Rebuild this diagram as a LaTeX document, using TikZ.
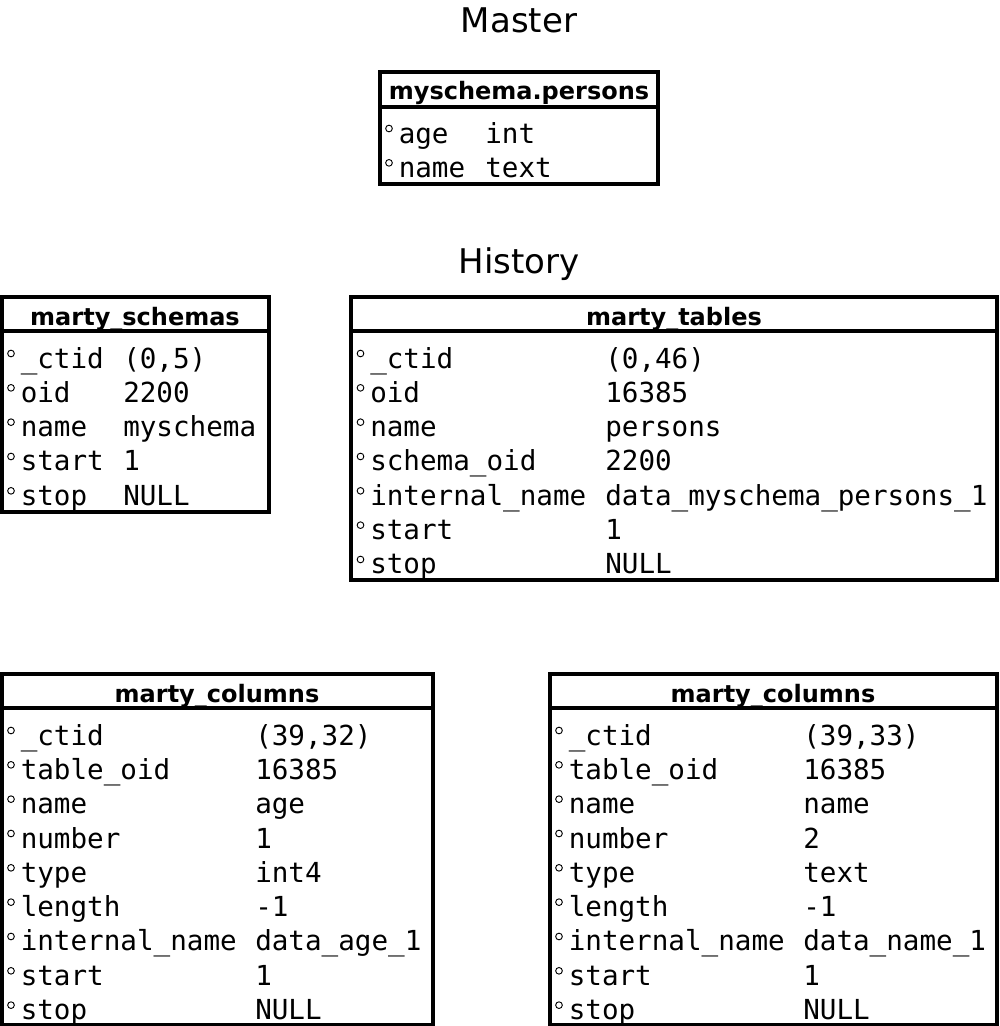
\documentclass[tikz,border=0pt]{standalone}
\usepackage{fontspec}
\setmainfont{DejaVu Sans}
\setmonofont{DejaVu Sans Mono}
\usepackage{tikz}

\tikzset{
  frame/.style={draw, line width=3pt},
  title/.style={font=\fontsize{25.5}{30}\selectfont, anchor=base, inner sep=0pt},
  head/.style={font=\bfseries\fontsize{18}{22}\selectfont, anchor=base, inner sep=0pt},
  field/.style={font=\ttfamily\fontsize{20.7}{24}\selectfont, anchor=base west, inner sep=0pt},
  dot/.style={draw, line width=0.7pt},
}

% rows of a table: prefix, left, value x, first baseline, list
\newcommand{\dbrows}[5]{%
  \foreach \f/\v [count=\i] in {#5} {
    \pgfmathsetmacro{\yb}{#4+34.33*(\i-1)}
    \draw[dot] (#2+9.5,\yb-14.5) circle[radius=2.5pt];
    \node[field] (#1-f\i) at (#2+19,\yb) {\f};
    \node[field] (#1-v\i) at (#3,\yb) {\v};
  }
}

\begin{document}
\begin{tikzpicture}[x=0.75pt, y=-0.75pt, line cap=butt, line join=miter]
    \useasboundingbox (0,0) rectangle (1000,1026);

    % Titles
    \node[title] (master) at (519,32.5) {Master};
    \node[title] (history) at (519,273.5) {History};

    % myschema.persons
    \draw[frame] (379.5,71.5) rectangle (658,183.5);
    \draw[frame] (379.5,107) -- (658,107);
    \node[head] (persons) at (519,99) {myschema.persons};
    \dbrows{persons}{379.5}{485}{143}{age/int, name/text}

    % marty_schemas
    \draw[frame] (1.5,296.5) rectangle (269,511.5);
    \draw[frame] (1.5,331) -- (269,331);
    \node[head] (schemas) at (135,325) {marty\_schemas};
    \dbrows{schemas}{1.5}{123}{368}{\_ctid/{(0,5)}, oid/2200, name/myschema, start/1, stop/NULL}

    % marty_tables
    \draw[frame] (351,296.5) rectangle (997,580);
    \draw[frame] (351,331) -- (997,331);
    \node[head] (tables) at (674,325) {marty\_tables};
    \dbrows{tables}{351}{605}{368}{\_ctid/{(0,46)}, oid/16385, name/persons, schema\_oid/2200,
      internal\_name/data\_myschema\_persons\_1, start/1, stop/NULL}

    % marty_columns (age)
    \draw[frame] (1.5,673.5) rectangle (433,1024.5);
    \draw[frame] (1.5,708) -- (433,708);
    \node[head] (colage) at (217,702) {marty\_columns};
    \dbrows{colage}{1.5}{255}{745}{\_ctid/{(39,32)}, table\_oid/16385, name/age, number/1, type/int4,
      length/-1, internal\_name/data\_age\_1, start/1, stop/NULL}

    % marty_columns (name)
    \draw[frame] (549.5,673.5) rectangle (997,1024.5);
    \draw[frame] (549.5,708) -- (997,708);
    \node[head] (colname) at (773,702) {marty\_columns};
    \dbrows{colname}{549.5}{803}{745}{\_ctid/{(39,33)}, table\_oid/16385, name/name, number/2, type/text,
      length/-1, internal\_name/data\_name\_1, start/1, stop/NULL}
\end{tikzpicture}
\end{document}
